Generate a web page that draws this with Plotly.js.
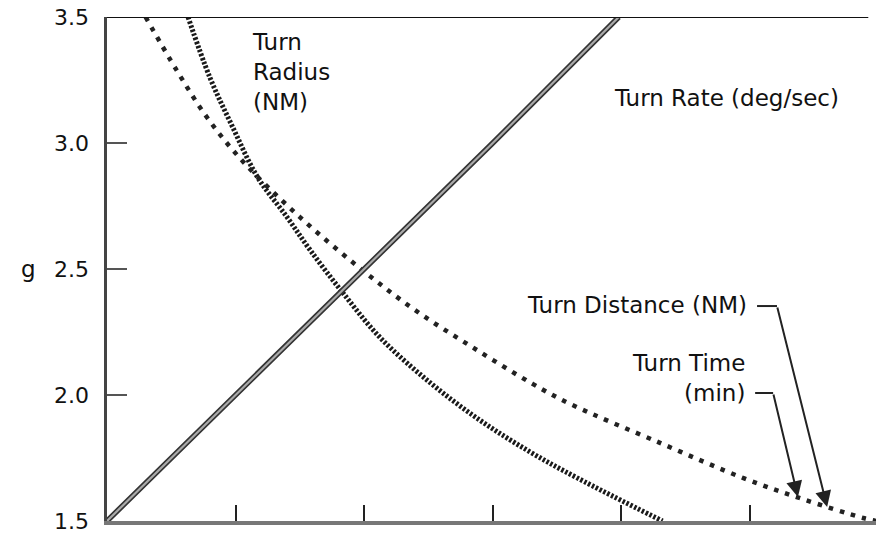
<!DOCTYPE html>
<html>
<head>
<meta charset="utf-8">
<script src="https://cdn.plot.ly/plotly-3.0.1.min.js"></script>
<style>html,body{margin:0;padding:0;background:#fff;}#chart{width:876px;height:544px;}</style>
</head>
<body>
<div id="chart"></div>
<script>
// Data (x is an unlabeled abscissa in tick units)
const gTicks = [1.5, 2.0, 2.5, 3.0, 3.5];
const gTickLabels = ['1.5', '2.0', '2.5', '3.0', '3.5'];
const xTicks = [1, 2, 3, 4, 5];

const turnRateX = [0, 1.0, 2.0, 3.0, 3.98];
const turnRateG = [1.5, 2.0, 2.5, 3.0, 3.5];

const turnRadiusX = [0.63, 0.80, 0.98, 1.17, 1.40, 1.58, 1.835, 2.12, 2.51, 2.90, 3.29, 3.66, 4.32];
const turnRadiusG = [3.5, 3.26, 3.06, 2.865, 2.706, 2.575, 2.405, 2.23, 2.05, 1.90, 1.774, 1.67, 1.50];

const turnDistX = [0.30, 0.54, 0.78, 1.06, 1.50, 1.975, 2.395, 2.85, 3.31, 3.60, 4.30, 4.95, 5.41, 5.88, 5.98];
const turnDistG = [3.5, 3.29, 3.10, 2.925, 2.706, 2.5, 2.337, 2.187, 2.044, 1.965, 1.81, 1.67, 1.587, 1.512, 1.5];

const FONT = 'DejaVu Sans, Liberation Sans, Arial, sans-serif';

const traces = [
  {x: turnRadiusX, y: turnRadiusG, mode: 'lines', line: {color: '#1a1a1a', width: 5, dash: '2.5px,1.8px', shape: 'spline'}, hoverinfo: 'skip'},
  {x: turnDistX, y: turnDistG, mode: 'lines', line: {color: '#222', width: 4.5, dash: '4.5px,7px', shape: 'spline'}, hoverinfo: 'skip'},
  {x: turnRateX, y: turnRateG, mode: 'lines', line: {color: '#333', width: 5.5}, hoverinfo: 'skip'},
  {x: turnRateX, y: turnRateG, mode: 'lines', line: {color: '#aaa', width: 2.2}, hoverinfo: 'skip'}
];

const layout = {
  width: 876, height: 544,
  margin: {l: 107, r: 0, t: 17, b: 23, pad: 0},
  paper_bgcolor: '#fff', plot_bgcolor: '#fff',
  showlegend: false,
  font: {family: FONT, color: '#111', size: 21},
  xaxis: {
    range: [0, 5.98], showgrid: false, zeroline: false,
    showline: true, linecolor: '#777', linewidth: 4,
    ticks: 'inside', ticklen: 16, tickwidth: 2, tickcolor: '#222',
    tickmode: 'array', tickvals: xTicks, showticklabels: false
  },
  yaxis: {
    range: [1.5, 3.5], showgrid: false, zeroline: false,
    showline: true, linecolor: '#444', linewidth: 3.5,
    ticks: 'inside', ticklen: 20, tickwidth: 2, tickcolor: '#555',
    tickmode: 'array', tickvals: gTicks, ticktext: gTickLabels,
    tickfont: {family: FONT, size: 22, color: '#111'},
    ticklabelstandoff: 10
  },
  shapes: [
    {type: 'line', xref: 'x', yref: 'y', x0: 0, x1: 5.92, y0: 3.5, y1: 3.5, line: {color: '#111', width: 2}},
    {type: 'line', xref: 'x', yref: 'y', x0: 5.055, x1: 5.21, y0: 2.353, y1: 2.353, line: {color: '#222', width: 2}},
    {type: 'line', xref: 'x', yref: 'y', x0: 5.04, x1: 5.18, y0: 2.008, y1: 2.008, line: {color: '#222', width: 2}}
  ],
  annotations: [
    {xref: 'paper', yref: 'y', x: -0.102, y: 2.5, text: 'g', showarrow: false, xanchor: 'center', yanchor: 'middle', font: {family: FONT, size: 23, color: '#111'}},
    {xref: 'x', yref: 'y', x: 1.11, y: 3.46, text: 'Turn<br>Radius<br>(NM)', align: 'left', showarrow: false, xanchor: 'left', yanchor: 'top', font: {family: FONT, size: 23, color: '#111'}},
    {xref: 'x', yref: 'y', x: 3.93, y: 3.18, text: 'Turn Rate (deg/sec)', showarrow: false, xanchor: 'left', yanchor: 'middle', font: {family: FONT, size: 23, color: '#111'}},
    {xref: 'x', yref: 'y', x: 4.99, y: 2.357, text: 'Turn Distance (NM)', showarrow: false, xanchor: 'right', yanchor: 'middle', font: {family: FONT, size: 23, color: '#111'}},
    {xref: 'x', yref: 'y', x: 4.98, y: 2.067, text: 'Turn Time<br>(min)', align: 'right', showarrow: false, xanchor: 'right', yanchor: 'middle', font: {family: FONT, size: 23, color: '#111'}},
    {xref: 'x', yref: 'y', x: 5.60, y: 1.556, axref: 'x', ayref: 'y', ax: 5.21, ay: 2.353, text: '', showarrow: true, arrowhead: 2, arrowsize: 1.6, arrowwidth: 2, arrowcolor: '#222'},
    {xref: 'x', yref: 'y', x: 5.373, y: 1.595, axref: 'x', ayref: 'y', ax: 5.18, ay: 2.008, text: '', showarrow: true, arrowhead: 2, arrowsize: 1.6, arrowwidth: 2, arrowcolor: '#222'}
  ]
};

Plotly.newPlot('chart', traces, layout, {staticPlot: true, displayModeBar: false});
</script>
</body>
</html>
